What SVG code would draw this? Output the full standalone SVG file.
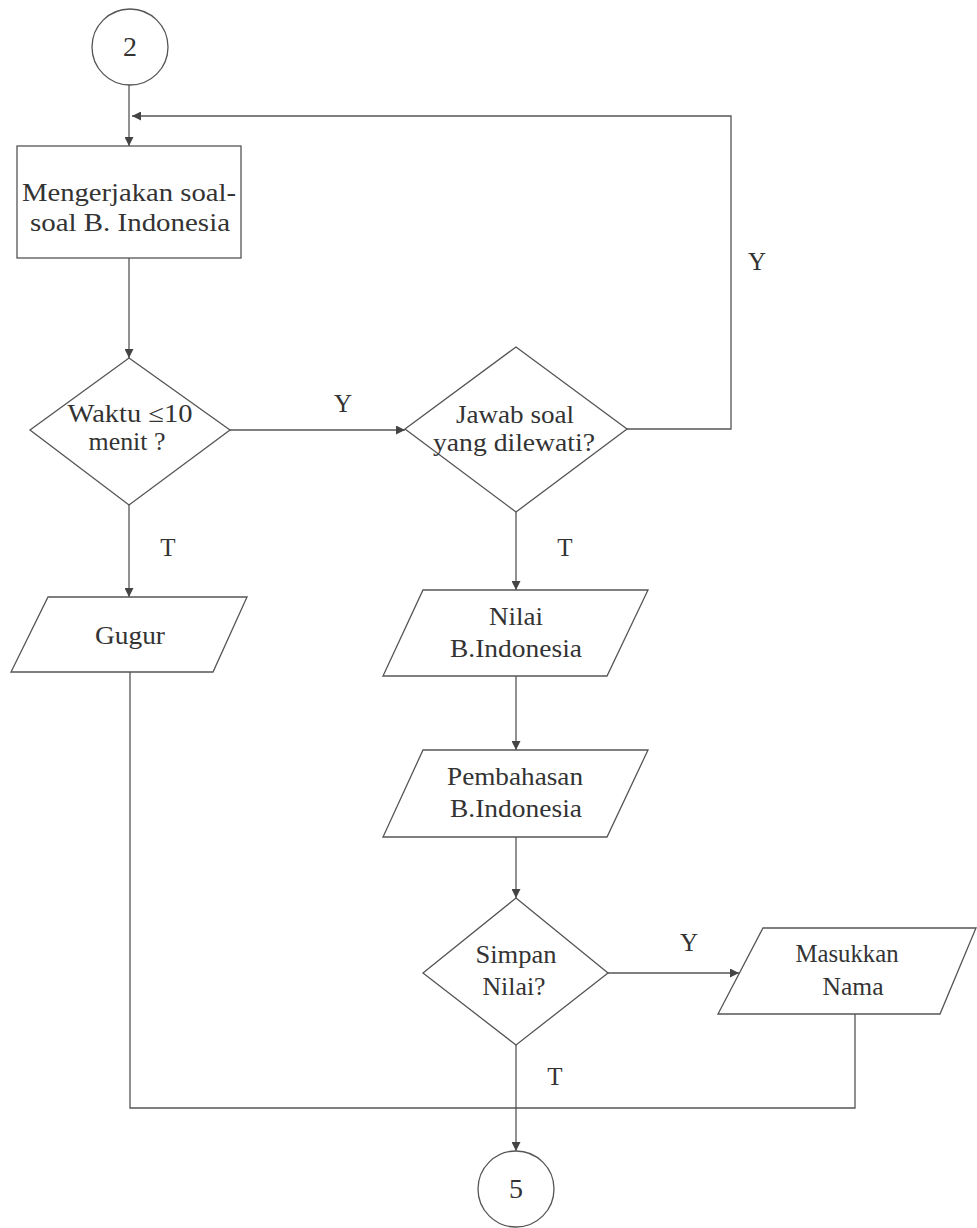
<svg xmlns="http://www.w3.org/2000/svg" width="977" height="1228" viewBox="0 0 977 1228">
<style>
.shape{fill:#fff;stroke:#555;stroke-width:1.3}
.conn{fill:none;stroke:#555;stroke-width:1.3}
.t{font-family:"Liberation Serif","Times New Roman",serif;font-size:25px;fill:#333;text-anchor:middle}
.num{font-family:"Liberation Serif","Times New Roman",serif;font-size:28px;fill:#333;text-anchor:middle}
.lbl{font-family:"Liberation Serif","Times New Roman",serif;font-size:25px;fill:#333;text-anchor:middle}
</style>
<defs>
<marker id="ah" viewBox="0 0 10 10" refX="10" refY="5" markerWidth="11" markerHeight="9" markerUnits="userSpaceOnUse" orient="auto">
<path d="M0,0 L10,5 L0,10 z" fill="#444"/>
</marker>
</defs>
<rect width="977" height="1228" fill="#fff"/>
<g id="connectors">
<line class="conn" x1="129" y1="84" x2="129" y2="146" marker-end="url(#ah)"/>
<polyline class="conn" points="627,429 731,429 731,116 132,116" marker-end="url(#ah)"/>
<line class="conn" x1="129" y1="258" x2="129" y2="358" marker-end="url(#ah)"/>
<line class="conn" x1="230" y1="430" x2="405" y2="430" marker-end="url(#ah)"/>
<line class="conn" x1="129" y1="505" x2="129" y2="597" marker-end="url(#ah)"/>
<line class="conn" x1="516" y1="512" x2="516" y2="590" marker-end="url(#ah)"/>
<line class="conn" x1="516" y1="676" x2="516" y2="750" marker-end="url(#ah)"/>
<line class="conn" x1="516" y1="837" x2="516" y2="898" marker-end="url(#ah)"/>
<line class="conn" x1="608" y1="973" x2="739" y2="973" marker-end="url(#ah)"/>
<line class="conn" x1="516" y1="1045" x2="516" y2="1151" marker-end="url(#ah)"/>
<polyline class="conn" points="130,672 130,1108 855,1108 855,1014"/>
<text class="lbl" x="343" y="412">Y</text>
<text class="lbl" x="757" y="270">Y</text>
<text class="lbl" x="689" y="951">Y</text>
<text class="lbl" x="168" y="556">T</text>
<text class="lbl" x="565" y="556">T</text>
<text class="lbl" x="555" y="1085">T</text>
</g>
<g id="start2">
<circle class="shape" cx="130" cy="47" r="38"/>
<text class="num" x="130" y="56">2</text>
</g>
<g id="mengerjakan">
<rect class="shape" x="17" y="146" width="224" height="112"/>
<text class="t" x="129" y="201" textLength="214" lengthAdjust="spacingAndGlyphs">Mengerjakan soal-</text>
<text class="t" x="130" y="231" textLength="200" lengthAdjust="spacingAndGlyphs">soal B. Indonesia</text>
</g>
<g id="waktu">
<polygon class="shape" points="129,358 230,430 129,505 30,430"/>
<text class="t" x="130" y="422" textLength="125" lengthAdjust="spacingAndGlyphs">Waktu ≤10</text>
<text class="t" x="127" y="450" textLength="77" lengthAdjust="spacingAndGlyphs">menit ?</text>
</g>
<g id="jawab">
<polygon class="shape" points="516,347 627,429 516,512 405,429"/>
<text class="t" x="515" y="423" textLength="118" lengthAdjust="spacingAndGlyphs">Jawab soal</text>
<text class="t" x="514" y="451" textLength="162" lengthAdjust="spacingAndGlyphs">yang dilewati?</text>
</g>
<g id="gugur">
<polygon class="shape" points="48,597 247,597 213,672 11,672"/>
<text class="t" x="130" y="644" textLength="70" lengthAdjust="spacingAndGlyphs">Gugur</text>
</g>
<g id="nilai">
<polygon class="shape" points="423,590 648,590 607,676 383,676"/>
<text class="t" x="516" y="625" textLength="54" lengthAdjust="spacingAndGlyphs">Nilai</text>
<text class="t" x="516" y="657" textLength="132" lengthAdjust="spacingAndGlyphs">B.Indonesia</text>
</g>
<g id="pembahasan">
<polygon class="shape" points="423,750 648,750 607,837 383,837"/>
<text class="t" x="515" y="785" textLength="136" lengthAdjust="spacingAndGlyphs">Pembahasan</text>
<text class="t" x="516" y="817" textLength="132" lengthAdjust="spacingAndGlyphs">B.Indonesia</text>
</g>
<g id="simpan">
<polygon class="shape" points="516,898 608,973 516,1045 423,973"/>
<text class="t" x="516" y="963" textLength="81" lengthAdjust="spacingAndGlyphs">Simpan</text>
<text class="t" x="514" y="995" textLength="63" lengthAdjust="spacingAndGlyphs">Nilai?</text>
</g>
<g id="masukkan">
<polygon class="shape" points="763,928 976,928 940,1014 718,1014"/>
<text class="t" x="847" y="962" textLength="103" lengthAdjust="spacingAndGlyphs">Masukkan</text>
<text class="t" x="853" y="995" textLength="61" lengthAdjust="spacingAndGlyphs">Nama</text>
</g>
<g id="end5">
<circle class="shape" cx="516" cy="1189" r="38"/>
<text class="num" x="516" y="1198">5</text>
</g>
</svg>
